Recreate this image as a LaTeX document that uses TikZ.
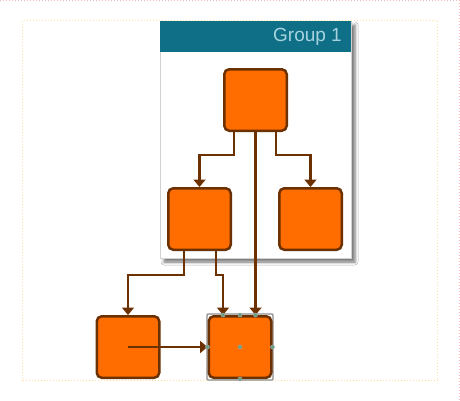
\documentclass[tikz,border=0pt]{standalone}
\usepackage{fontspec}
\setmainfont{Liberation Sans}
\usetikzlibrary{arrows.meta,shadows,shadows.blur,calc}
\definecolor{nodefill}{HTML}{FF6D00}
\definecolor{nodeline}{HTML}{6B3100}
\definecolor{headteal}{HTML}{0E6F86}
\definecolor{headtext}{HTML}{A6D3DF}
\definecolor{pinkdot}{HTML}{F4B8B8}
\definecolor{yellowdot}{HTML}{FBE0A0}
\definecolor{handle}{HTML}{5FA080}
\tikzset{
  orangebox/.style={draw=nodeline, fill=nodefill, line width=2.5pt, rounded corners=5pt,
    minimum width=62.5pt, minimum height=61.5pt, inner sep=0pt},
  edge/.style={draw=nodeline, line width=2.5pt, -{Triangle[width=12pt,length=7.5pt]}},
  handledot/.style={circle, fill=handle, draw=black!35, line width=0.5pt, minimum size=4pt, inner sep=0pt}
}
\begin{document}
\begin{tikzpicture}[x=1pt,y=-1pt]
\useasboundingbox (0,0) rectangle (460,400);
\fill[white] (0,0) rectangle (460,400);
% page borders
\draw[pinkdot, dotted, line width=1pt] (0,0.5) -- (460,0.5);
\draw[pinkdot, dotted, line width=1pt] (459.5,0) -- (459.5,400);
\draw[yellowdot, dotted, line width=1pt] (22.5,20.5) rectangle (437.5,380.5);
% group
\node[fill=white, draw=black!18, line width=0.6pt, minimum width=191pt, minimum height=237pt,
  inner sep=0pt, blur shadow={shadow xshift=4pt, shadow yshift=-4pt, shadow blur radius=3pt, shadow opacity=55}]
  (G) at (255.5,139.5) {};
\fill[headteal] (160,21) rectangle (351,52);
\node[anchor=east, text=headtext, font=\fontsize{19}{20}\selectfont, inner sep=0pt] (GT) at (342,37) {Group 1};
% nodes
\node[orangebox] (T) at (255.5,100) {};
\node[orangebox] (ML) at (199.5,219) {};
\node[orangebox] (MR) at (310.5,219) {};
\node[orangebox] (BL) at (128,347) {};
\node[draw=black!45, line width=1.2pt, rounded corners=1pt, minimum width=66pt, minimum height=66pt, inner sep=0pt] (SEL) at (240,347) {};
\node[orangebox] (BR) at (240,347) {};
% edges
\draw[edge] ([xshift=-21.5pt]T.south) -- ++(0,23) -| (ML.north);
\draw[edge] ([xshift=20.5pt]T.south) -- ++(0,23) -| (MR.north);
\draw[edge] (T.south) -- (T.south |- BR.north);
\draw[edge] ([xshift=-15.5pt]ML.south) -- ++(0,24) -| (BL.north);
\draw[edge] ([xshift=16.5pt]ML.south) -- ++(0,24) -| ([xshift=-17pt]BR.north);
\draw[edge] (BL.center) -- (BR.west);
% selection handles
\node[handledot] (h1) at ([xshift=-17pt]BR.north) {};
\node[handledot] (h2) at (BR.north) {};
\node[handledot] (h3) at ([xshift=15.5pt]BR.north) {};
\node[handledot] (h4) at (BR.west) {};
\node[handledot] (h5) at (BR.center) {};
\node[handledot] (h6) at (BR.east) {};
\node[handledot] (h7) at (BR.south) {};
\end{tikzpicture}
\end{document}
